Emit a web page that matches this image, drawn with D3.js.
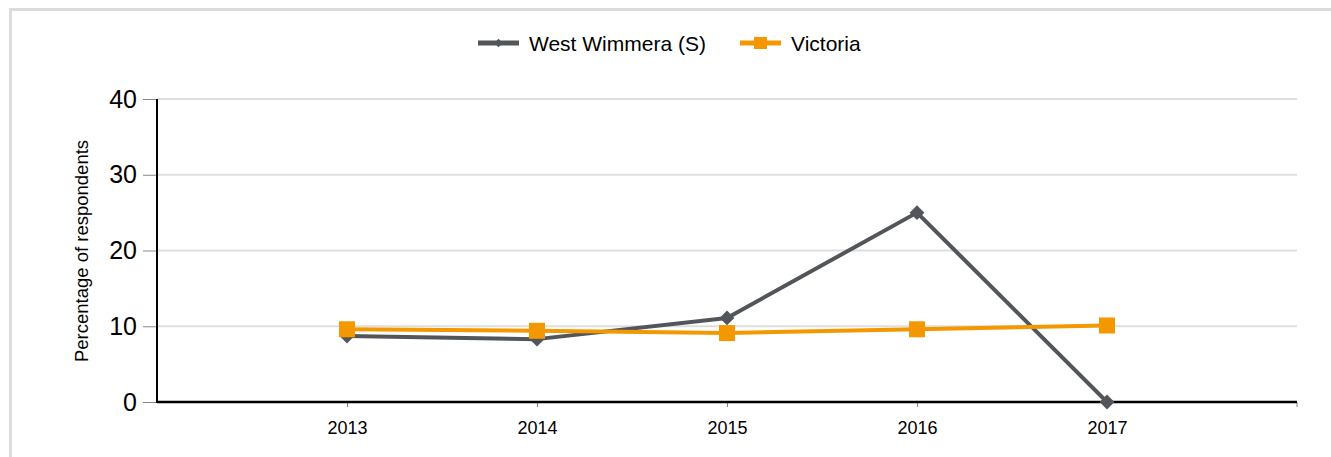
<!DOCTYPE html>
<html>
<head>
<meta charset="utf-8">
<script src="https://cdnjs.cloudflare.com/ajax/libs/d3/7.8.5/d3.min.js"></script>
<style>
    body { margin: 0; background: #fff; font-family: Arial, "Liberation Sans", Helvetica, sans-serif; }
    .frame { position: absolute; left: 9px; top: 8px; width: 1340px; height: 470px;
             border-top: 3px solid #dcdcdc; border-left: 3px solid #dcdcdc; }
</style>
</head>
<body>
<div class="frame"></div>
<svg width="1331" height="457" style="position:absolute;left:0;top:0"></svg>
<script>
    var years = [2013, 2014, 2015, 2016, 2017];
    var westWimmera = [8.7, 8.3, 11.1, 25.0, 0];
    var victoria = [9.6, 9.4, 9.1, 9.6, 10.1];
    var yTicks = [0, 10, 20, 30, 40];

    var svg = d3.select("svg");
    var plotL = 157, plotR = 1297, plotT = 99, plotB = 402;

    var x = d3.scaleLinear().domain([2012, 2018]).range([plotL, plotR]);
    var y = d3.scaleLinear().domain([0, 40]).range([plotB, plotT]);

    // gridlines
    svg.append("g").selectAll("line")
        .data(yTicks.filter(function(d) { return d > 0; }))
        .enter().append("line")
        .attr("x1", plotL).attr("x2", plotR)
        .attr("y1", function(d) { return y(d); })
        .attr("y2", function(d) { return y(d); })
        .attr("stroke", "#dedede").attr("stroke-width", 2);

    // y axis
    var yAxis = svg.append("g")
        .attr("transform", "translate(" + plotL + ",0)")
        .call(d3.axisLeft(y).tickValues(yTicks).tickSize(14).tickPadding(6));
    yAxis.select(".domain").remove();
    yAxis.selectAll(".tick line").attr("stroke", "#888");
    yAxis.selectAll("text").attr("font-size", 25).attr("fill", "#000")
        .attr("font-family", "Arial, Liberation Sans, sans-serif");
    svg.append("line").attr("x1", plotL).attr("x2", plotL)
        .attr("y1", plotT).attr("y2", plotB + 1)
        .attr("stroke", "#000").attr("stroke-width", 2);

    // x axis
    var xAxis = svg.append("g")
        .attr("transform", "translate(0," + plotB + ")")
        .call(d3.axisBottom(x).tickValues(years).tickFormat(d3.format("d")).tickSize(5).tickPadding(14));
    xAxis.select(".domain").remove();
    xAxis.selectAll(".tick line").attr("stroke", "#888");
    xAxis.selectAll("text").attr("font-size", 18).attr("fill", "#000")
        .attr("font-family", "Arial, Liberation Sans, sans-serif");
    svg.append("line").attr("x1", plotR).attr("x2", plotR)
        .attr("y1", plotB).attr("y2", plotB + 5)
        .attr("stroke", "#888");
    svg.append("line").attr("x1", plotL).attr("x2", plotR)
        .attr("y1", plotB).attr("y2", plotB)
        .attr("stroke", "#000").attr("stroke-width", 2.5);

    // axis title
    svg.append("text")
        .attr("transform", "translate(88," + 251 + ") rotate(-90)")
        .attr("text-anchor", "middle")
        .attr("font-size", 18.5)
        .text("Percentage of respondents");

    var line = d3.line()
        .x(function(d, i) { return x(years[i]); })
        .y(function(d) { return y(d); });

    var grey = "#525559", orange = "#f39800";

    svg.append("path").datum(westWimmera)
        .attr("d", line).attr("fill", "none")
        .attr("stroke", grey).attr("stroke-width", 4).attr("stroke-linejoin", "round");
    svg.append("g").selectAll("path")
        .data(westWimmera).enter().append("path")
        .attr("d", d3.symbol(d3.symbolDiamond2, 140))
        .attr("transform", function(d, i) { return "translate(" + x(years[i]) + "," + y(d) + ")"; })
        .attr("fill", grey);

    svg.append("path").datum(victoria)
        .attr("d", line).attr("fill", "none")
        .attr("stroke", orange).attr("stroke-width", 4).attr("stroke-linejoin", "round");
    svg.append("g").selectAll("rect")
        .data(victoria).enter().append("rect")
        .attr("x", function(d, i) { return x(years[i]) - 8; })
        .attr("y", function(d) { return y(d) - 8; })
        .attr("width", 16).attr("height", 16)
        .attr("fill", orange);

    // legend
    var legend = svg.append("g");
    var items = [
        { name: "West Wimmera (S)", color: grey, x: 478, shape: "diamond" },
        { name: "Victoria", color: orange, x: 740, shape: "square" }
    ];
    items.forEach(function(it) {
        var g = legend.append("g").attr("transform", "translate(" + it.x + ",43)");
        g.append("line").attr("x1", 0).attr("x2", 41).attr("y1", 0).attr("y2", 0)
            .attr("stroke", it.color).attr("stroke-width", 5);
        if (it.shape === "diamond") {
            g.append("path").attr("d", d3.symbol(d3.symbolDiamond2, 45))
                .attr("transform", "translate(20.5,0)").attr("fill", it.color);
        } else {
            g.append("rect").attr("x", 14).attr("y", -6).attr("width", 13).attr("height", 12)
                .attr("fill", it.color);
        }
        g.append("text").attr("x", 51).attr("y", 7.5)
            .attr("font-size", 21).attr("fill", "#000")
            .text(it.name);
    });
</script>
</body>
</html>
